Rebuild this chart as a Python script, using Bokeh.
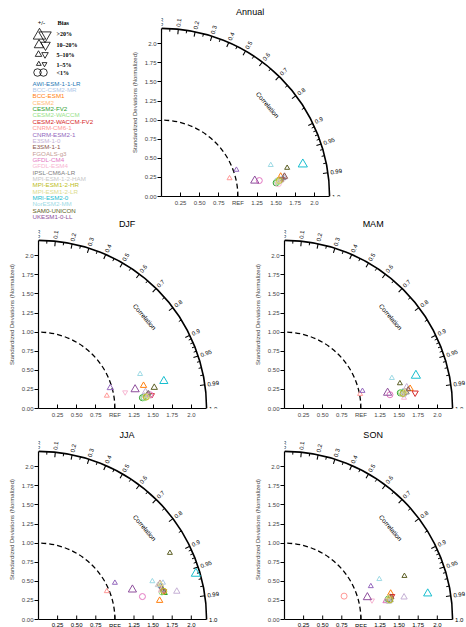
import numpy as np
from bokeh.plotting import figure
from bokeh.models import ColumnDataSource, Range1d, FixedTicker, LabelSet
from bokeh.layouts import row, column
from bokeh.embed import file_html
from bokeh.resources import INLINE
from bokeh.core.properties import value, field

# ---------------- data ----------------
models = ["AWI-ESM-1-1-LR", "BCC-CSM2-MR", "BCC-ESM1", "CESM2", "CESM2-FV2", "CESM2-WACCM",
          "CESM2-WACCM-FV2", "CNRM-CM6-1", "CNRM-ESM2-1", "E3SM-1-0", "E3SM-1-1", "FGOALS-g3",
          "GFDL-CM4", "GFDL-ESM4", "IPSL-CM6A-LR", "MPI-ESM-1-2-HAM", "MPI-ESM1-2-HR",
          "MPI-ESM1-2-LR", "MRI-ESM2-0", "NorESM2-MM", "SAM0-UNICON", "UKESM1-0-LL"]
model_colors = ["#1f77b4", "#aec7e8", "#ff7f0e", "#ffbb78", "#2ca02c", "#98df8a",
                "#d62728", "#ff9896", "#9467bd", "#c5b0d5", "#8c564b", "#c49c94",
                "#e377c2", "#f7b6d2", "#7f7f7f", "#c7c7c7", "#bcbd22",
                "#dbdb8d", "#17becf", "#9edae5", "#5b5e23", "#8e4e9c"]

seasons = ["Annual", "DJF", "MAM", "JJA", "SON"]

std_annual = [1.566, 1.533, 1.582, 1.557, 1.511, 1.532, 1.595, 0.922, 1.041, 1.619, 1.631,
              1.584, 1.297, 1.539, 1.608, 1.563, 1.554, 1.543, 1.897, 1.488, 1.687, 1.238]
corr_annual = [0.990, 0.991, 0.986, 0.989, 0.993, 0.992, 0.990, 0.966, 0.942, 0.988, 0.987,
               0.991, 0.987, 0.994, 0.989, 0.992, 0.991, 0.992, 0.975, 0.961, 0.975, 0.986]
bias_annual = [3, 0.5, 6, 4, -0.5, 0.3, -3, 3, 3, 7, 6, 3, 0.5, -0.3, 4, 2, 0.5, 3, 25, 3, 4, 15]

std_djf = [1.430, 1.388, 1.407, 1.409, 1.367, 1.387, 1.495, 0.910, 0.978, 1.417, 1.443,
           1.459, 1.471, 1.154, 1.454, 1.400, 1.418, 1.429, 1.679, 1.404, 1.540, 1.289]
corr_djf = [0.993, 0.994, 0.977, 0.9935, 0.9947, 0.9949, 0.9931, 0.983, 0.961, 0.988, 0.991,
            0.994, 0.9925, 0.983, 0.9905, 0.9926, 0.9944, 0.9937, 0.977, 0.947, 0.984, 0.981]
bias_djf = [3, 0.5, 7, 3, 0.5, 0.5, -4, 3, 7, 7, 4, 3, 0.5, -4, 3, 3, 0.5, 3, 15, 3, 7, 15]

std_mam = [1.566, 1.572, 1.665, 1.597, 1.529, 1.544, 1.722, 1.008, 1.046, 1.624, 1.639,
           1.583, 1.392, 1.571, 1.614, 1.550, 1.563, 1.585, 1.773, 1.461, 1.546, 1.365]
corr_mam = [0.990, 0.9927, 0.9877, 0.9896, 0.991, 0.9907, 0.9929, 0.982, 0.9755, 0.985, 0.9883,
            0.992, 0.9916, 0.996, 0.9915, 0.9932, 0.992, 0.9903, 0.970, 0.962, 0.977, 0.9887]
bias_mam = [3, 0.5, 7, 3, 0.5, 0.5, -7, 3, 3, 7, 4, 3, 0.5, 3, 3, 3, 0.5, 3, 25, 3, 3, 15]

std_jja = [1.659, 1.699, 1.605, 1.669, 1.682, 1.655, 1.686, 0.968, 1.109, 1.847, 1.664,
           1.658, 1.393, 1.645, 1.676, 1.624, 1.681, 1.665, 2.146, 1.572, 1.928, 1.290]
corr_jja = [0.964, 0.959, 0.988, 0.971, 0.978, 0.976, 0.9756, 0.924, 0.9015, 0.980, 0.968,
            0.959, 0.9765, 0.973, 0.9725, 0.961, 0.9755, 0.961, 0.960, 0.948, 0.892, 0.953]
bias_jja = [3, 3, 7, 3, 7, 0.5, -3, 3, 3, 7, 4, 7, 0.5, 3, 3, 3, 0.5, 3, 25, 3, 4, 15]

std_son = [1.398, 1.385, 1.431, 1.412, 1.387, 1.373, 1.444, 0.838, 1.211, 1.592, 1.430,
           1.406, 1.342, 1.172, 1.412, 1.389, 1.404, 1.391, 1.905, 1.349, 1.670, 1.123]
corr_son = [0.980, 0.982, 0.971, 0.977, 0.981, 0.983, 0.977, 0.931, 0.933, 0.983, 0.979,
            0.981, 0.984, 0.977, 0.984, 0.986, 0.983, 0.978, 0.984, 0.920, 0.940, 0.966]
bias_son = [3, 0.5, 6, 3, 0.5, 0.5, -3, 0.5, 3, 7, 4, 3, 3, -3, 3, 3, 0.5, 3, 15, 3, 3, 15]

bias_bins = [">20%", "10\u201320%", "5\u201310%", "1\u20135%", "<1%"]

std_ticks = [0.0, 0.25, 0.5, 0.75, 1.0, 1.25, 1.5, 1.75, 2.0]
x_tick_labels = ["", "0.25", "0.50", "0.75", "REF", "1.25", "1.50", "1.75", "2.0"]
y_tick_labels = ["0.00", "0.25", "0.50", "0.75", "1.00", "1.25", "1.50", "1.75", "2.0"]
corr_major = [0.0, 0.1, 0.2, 0.3, 0.4, 0.5, 0.6, 0.7, 0.8, 0.9, 0.95, 0.99, 1.0]
corr_major_labels = ["0.0", "0.1", "0.2", "0.3", "0.4", "0.5", "0.6", "0.7", "0.8", "0.9",
                     "0.95", "0.99", "1.0"]
corr_minor = [0.05, 0.15, 0.25, 0.35, 0.45, 0.55, 0.65, 0.75, 0.85,
              0.91, 0.92, 0.93, 0.94, 0.96, 0.97, 0.98]

# ---------------- style ----------------
S = 76.4        # px per std unit
R = 2.2         # outer radius
FONT = "Liberation Sans"
SERIF = "Liberation Serif"


def marker_of(b):
    a = abs(b)
    if a < 1:
        return "circle", 6.0
    shape = "triangle" if b > 0 else "inverted_triangle"
    if a > 20:
        return shape, 9.2
    if a > 10:
        return shape, 8.2
    if a > 5:
        return shape, 6.3
    return shape, 5.0


def taylor(title, std, corr, bias, left, fw, top, bottom, last_row=False):
    fh = 188
    extra = 8 if last_row else 0
    p = figure(frame_width=fw, frame_height=fh + extra, title=None,
               x_range=Range1d(0, fw / S), y_range=Range1d(-extra / S, fh / S),
               output_backend="svg", toolbar_location=None,
               min_border_left=left, min_border_right=0, min_border_top=top,
               min_border_bottom=bottom, outline_line_color=None)
    p.grid.visible = False
    xa = p.xaxis[0]
    ya = p.yaxis[0]

    ya.ticker = FixedTicker(ticks=std_ticks)
    ya.major_label_overrides = {t: l for t, l in zip(std_ticks, y_tick_labels)}
    ya.bounds = (0, R)
    ya.major_tick_out = 4
    ya.major_tick_in = 0
    ya.minor_tick_out = 0
    ya.minor_tick_in = 0
    ya.major_label_standoff = 1
    ya.major_label_text_font = FONT
    ya.major_label_text_font_size = "6px"
    ya.axis_line_width = 1.2
    ya.axis_label = "Standardized Deviations (Normalized)"
    ya.axis_label_text_font = FONT
    ya.axis_label_text_font_size = "6px"
    ya.axis_label_text_font_style = "normal"
    ya.axis_label_standoff = 4

    if last_row:
        # bottom row: the std axis is drawn inside the frame, which runs on below it
        xa.visible = False
        p.segment(x0=[0], y0=[0], x1=[R], y1=[0], line_color="black", line_width=1.2)
        tk = std_ticks[1:]
        p.segment(x0=tk, y0=[0] * len(tk), x1=tk, y1=[4 / S] * len(tk),
                  line_color="black", line_width=1)
        p.text(x=tk, y=[-3 / S] * len(tk), text=x_tick_labels[1:], text_font=value(FONT),
               text_font_size="6px", text_align="center", text_baseline="top",
               text_color="black")
    else:
        xa.ticker = FixedTicker(ticks=std_ticks[1:])
        xa.major_label_overrides = {t: l for t, l in zip(std_ticks, x_tick_labels)}
        xa.bounds = (0, R)
        xa.major_tick_in = 4
        xa.major_tick_out = 0
        xa.minor_tick_in = 0
        xa.minor_tick_out = 0
        xa.major_label_standoff = 3
        xa.major_label_text_font = FONT
        xa.major_label_text_font_size = "6px"
        xa.axis_line_width = 1.2

    # outer correlation arc and ticks
    p.arc(x=[0], y=[0], radius=R, start_angle=0, end_angle=np.pi / 2,
          line_color="black", line_width=1.6)
    thm = np.arccos(np.array(corr_major[:-1]))
    r1 = R - 5 / S
    p.segment(x0=r1 * np.cos(thm), y0=r1 * np.sin(thm), x1=R * np.cos(thm), y1=R * np.sin(thm),
              line_color="black", line_width=1.1)
    thn = np.arccos(np.array(corr_minor))
    r2 = R - 3 / S
    p.segment(x0=r2 * np.cos(thn), y0=r2 * np.sin(thn), x1=R * np.cos(thn), y1=R * np.sin(thn),
              line_color="black", line_width=1.0)
    tha = np.arccos(np.array(corr_major))
    rl = R + 2.5 / S
    lab_src = ColumnDataSource(dict(x=rl * np.cos(tha), y=rl * np.sin(tha),
                                    text=corr_major_labels, angle=tha))
    p.add_layout(LabelSet(x="x", y="y", text="text", angle="angle", source=lab_src,
                          text_align="left", text_baseline="middle",
                          text_font=value(FONT), text_font_size="6px", text_color="black"))

    # dashed reference arc
    p.arc(x=[0], y=[0], radius=1.0, start_angle=0, end_angle=np.pi / 2,
          line_color="black", line_width=1.3, line_dash="5 3")

    p.text(x=[1.39], y=[1.20], text=["Correlation"], angle=-0.87,
           text_font=value(FONT), text_font_size="6.5px",
           text_align="center", text_baseline="middle", text_color="black")
    p.text(x=[1.16], y=[2.41], text=[title], text_font=value(FONT), text_font_size="9px",
           text_align="center", text_baseline="middle", text_color="black")

    # model markers
    sd = np.array(std)
    th = np.arccos(np.array(corr))
    shapes, sizes = zip(*[marker_of(b) for b in bias])
    src = ColumnDataSource(dict(x=sd * np.cos(th), y=sd * np.sin(th), marker=list(shapes),
                                size=list(sizes), color=model_colors))
    p.scatter("x", "y", source=src, marker=field("marker"), size="size",
              line_color="color", fill_color=None, line_width=1.0)
    return p


# ---------------- legend panel ----------------
leg = figure(frame_width=128, frame_height=220, title=None,
             x_range=Range1d(-8, 120), y_range=Range1d(219, -1),
             x_axis_type=None, y_axis_type=None, output_backend="svg", toolbar_location=None,
             min_border=0, outline_line_color=None)
leg.grid.visible = False
leg.text(x=[33], y=[13], text=["+/-"], text_font=value(SERIF), text_font_size="6.3px",
         text_font_style="bold", text_align="center", text_baseline="middle")
leg.text(x=[49], y=[13], text=["Bias"], text_font=value(SERIF), text_font_size="6.3px",
         text_font_style="bold", text_align="left", text_baseline="middle")
row_y = [26, 35.5, 45, 54.5, 63]
lab_y = [24.5, 35, 45, 55, 63]
up_x = [31, 30.5, 30, 30.3, 29]
dn_x = [36.5, 37, 36.5, 36, 35]
leg_sizes = [12.5, 9.5, 6.5, 4.8, 7.5]
up_m = ["triangle"] * 4 + ["circle"]
dn_m = ["inverted_triangle"] * 4 + ["circle"]
leg.scatter(x=up_x, y=row_y, marker=up_m, size=leg_sizes, line_color="black",
            fill_color=None, line_width=0.8)
leg.scatter(x=dn_x, y=row_y, marker=dn_m, size=leg_sizes, line_color="black",
            fill_color=None, line_width=0.8)
leg.text(x=[48] * len(bias_bins), y=lab_y, text=bias_bins, text_font=value(SERIF),
         text_font_size="6px", text_font_style="bold", text_align="left", text_baseline="middle")
name_y = [73.7 + 6.35 * i for i in range(len(models))]
leg.text(x=[24] * len(models), y=name_y, text=models, text_color=model_colors,
         text_font=value(FONT), text_font_size="6.2px", text_align="left", text_baseline="middle")

# ---------------- panels ----------------
p_ann = taylor(seasons[0], std_annual, corr_annual, bias_annual, left=33, fw=305, top=8, bottom=24)
p_djf = taylor(seasons[1], std_djf, corr_djf, bias_djf, left=38, fw=195, top=0, bottom=23)
p_mam = taylor(seasons[2], std_mam, corr_mam, bias_mam, left=51, fw=182, top=0, bottom=23)
p_jja = taylor(seasons[3], std_jja, corr_jja, bias_jja, left=38, fw=195, top=0, bottom=0,
               last_row=True)
p_son = taylor(seasons[4], std_son, corr_son, bias_son, left=51, fw=182, top=0, bottom=0,
               last_row=True)

layout = column(row(leg, p_ann), row(p_djf, p_mam), row(p_jja, p_son))

open("out.html", "w").write(file_html(layout, INLINE))
